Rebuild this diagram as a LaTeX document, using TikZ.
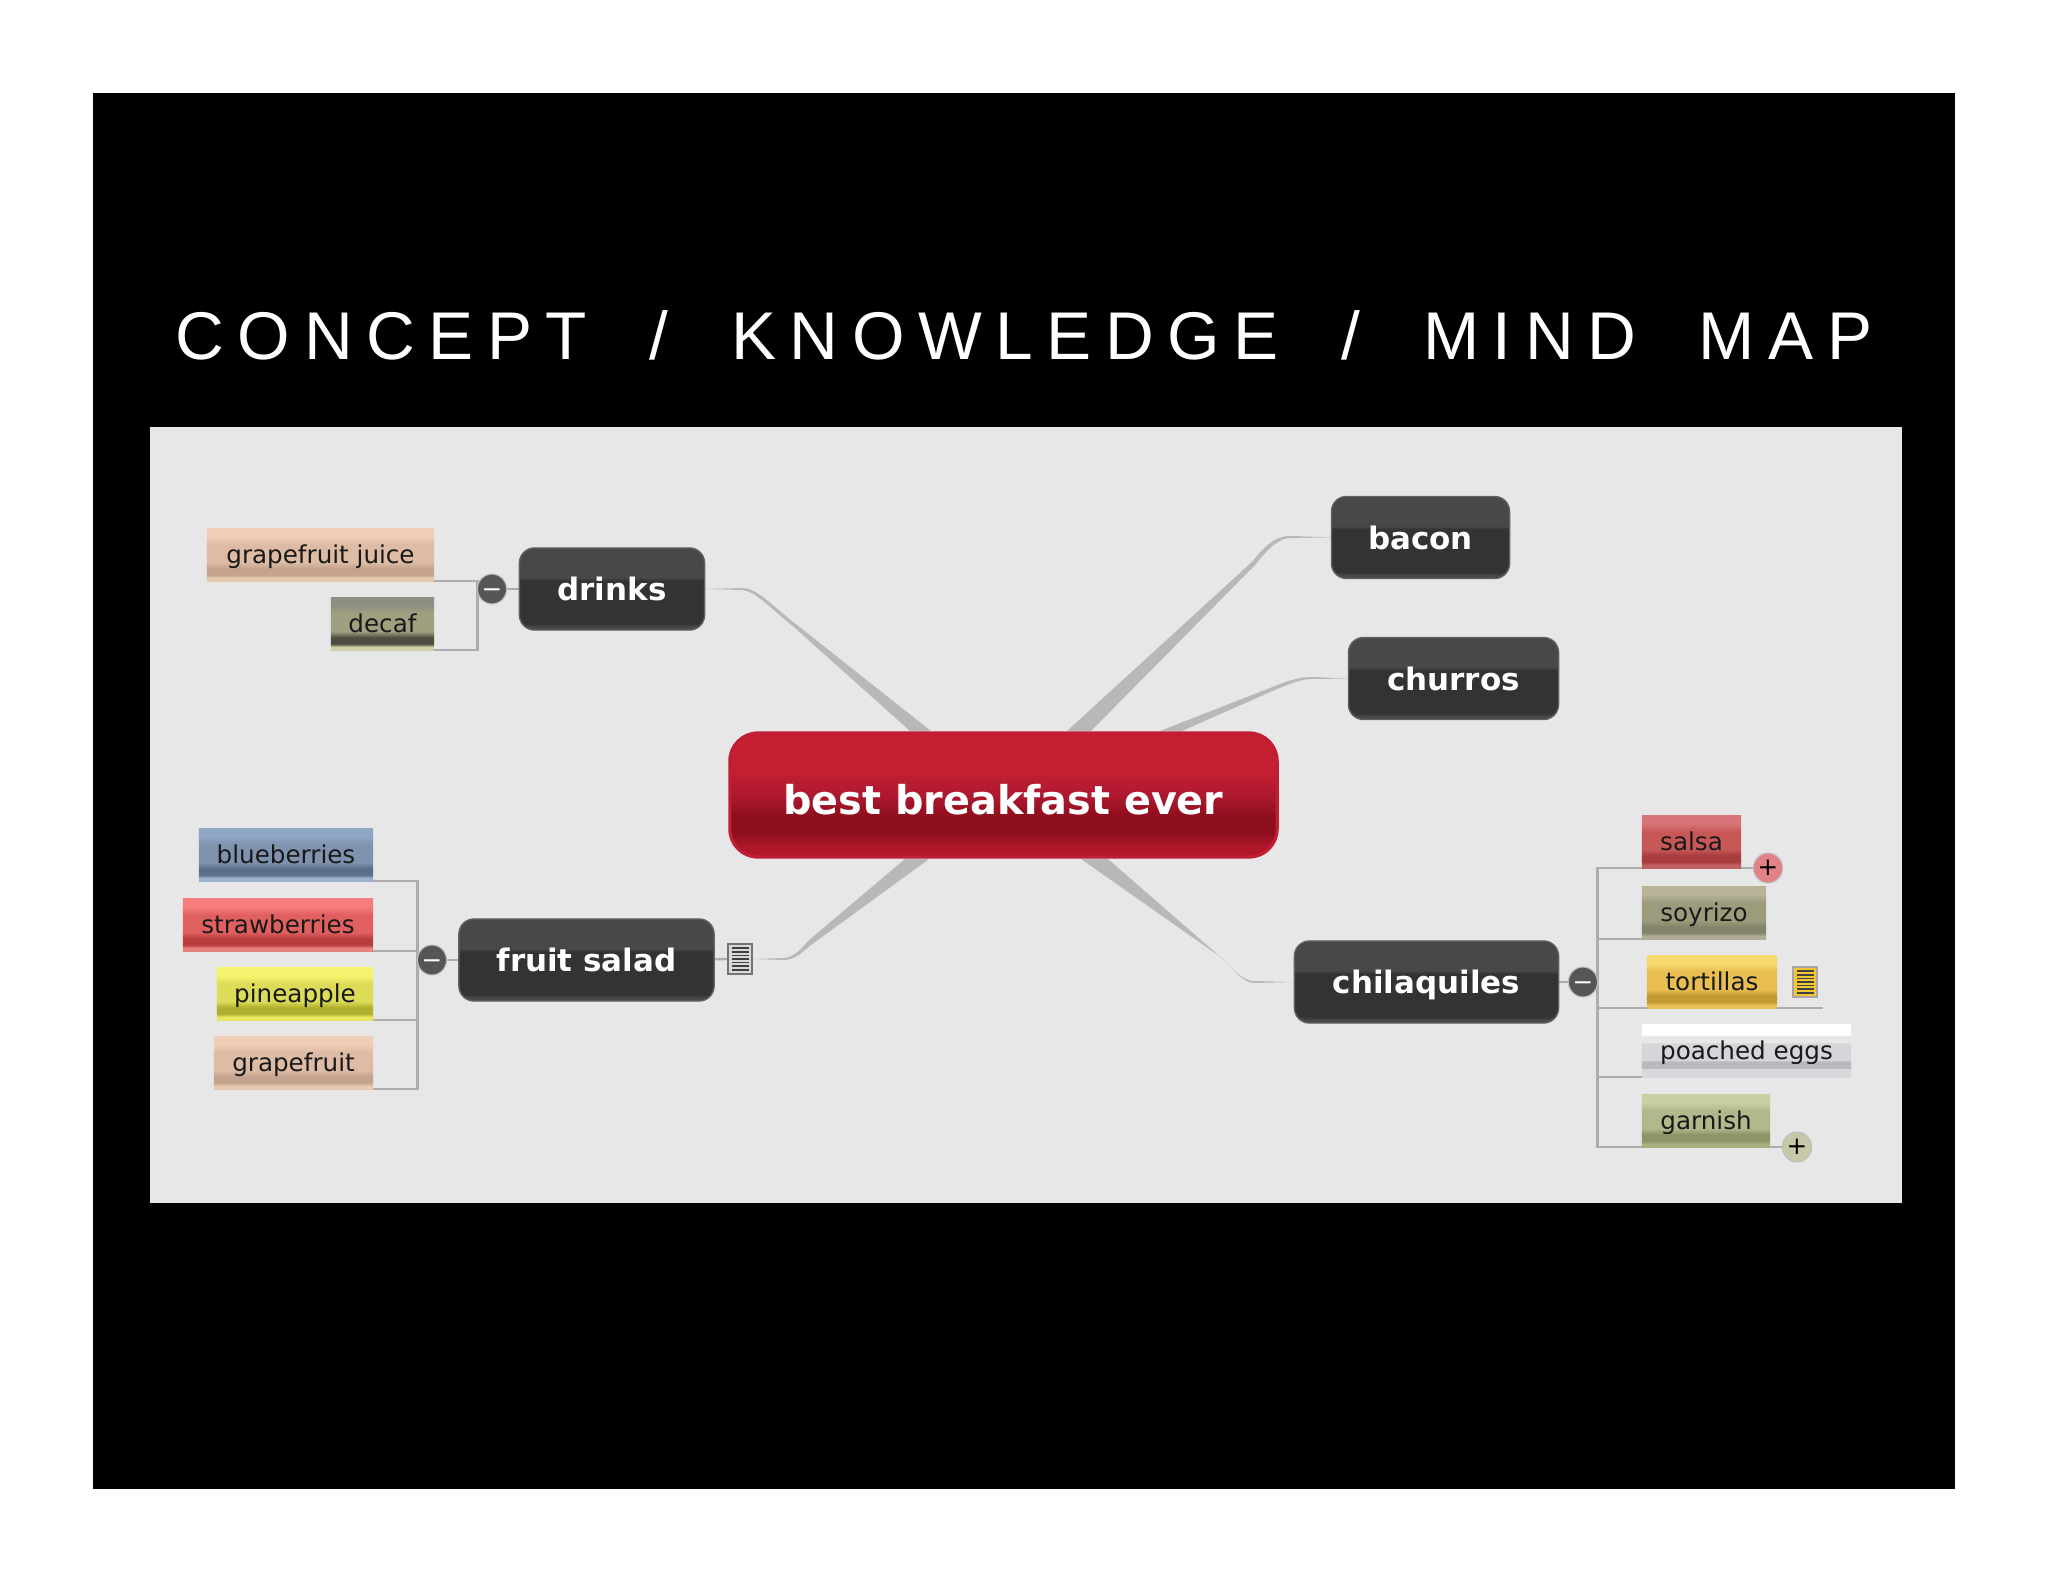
\documentclass[tikz,border=0pt]{standalone}
\usepackage{fontspec}
\setmainfont{DejaVu Sans}
\newfontfamily\titlefont[LetterSpace=20,WordSpace=1.95]{Liberation Sans}
\usetikzlibrary{backgrounds,shapes.geometric}

\definecolor{PanelClr}{HTML}{E7E7E7}
\definecolor{BranchClr}{HTML}{B8B8B8}
\definecolor{TwigClr}{HTML}{ADADAD}
\definecolor{KnobClr}{HTML}{565658}
\definecolor{PlusRedClr}{HTML}{E28286}
\definecolor{PlusOliveClr}{HTML}{C6C8A6}
\definecolor{NoteGreyClr}{HTML}{D8D8D8}
\definecolor{NoteYellowClr}{HTML}{F4C632}
\definecolor{DarkClr}{HTML}{333333}
\definecolor{DarkTopClr}{HTML}{484848}
\definecolor{RedTopClr}{HTML}{C42032}
\definecolor{RedMidClr}{HTML}{AE1830}
\definecolor{RedLowClr}{HTML}{8C0E1C}
\definecolor{RedEdgeClr}{HTML}{B0182A}
\definecolor{RedLineClr}{HTML}{C01E34}
\definecolor{PoachTopClr}{HTML}{D4D6DA}
\definecolor{PoachLowClr}{HTML}{B8BABE}
\definecolor{PoachEdgeClr}{HTML}{D8D8DC}

\newcommand{\minusbar}{\smash{\raisebox{-.36em}{−}}}
\newcommand{\leafshading}[5]{%
  \definecolor{#1A}{HTML}{#2}\definecolor{#1B}{HTML}{#3}%
  \definecolor{#1C}{HTML}{#4}\definecolor{#1D}{HTML}{#5}%
  \pgfdeclareverticalshading{#1}{100bp}{color(0bp)=(#1D); color(28bp)=(#1D);
    color(31bp)=(#1C); color(37bp)=(#1C); color(43bp)=(#1B); color(60bp)=(#1B);
    color(68bp)=(#1A); color(100bp)=(#1A)}}

\leafshading{peachleaf}{F0CDB6}{DDBBA5}{C4A48E}{E4C9AE}
\leafshading{decafleaf}{8E8F82}{A0A080}{4D4D40}{D0D0A8}
\leafshading{blueleaf}{8FA6C4}{7F93AE}{5A6F8C}{9DB0CC}
\leafshading{strawleaf}{F67E7E}{E06060}{B83C3C}{E88080}
\leafshading{pineleaf}{F4F46E}{DCDC58}{B0B030}{E8E860}
\leafshading{salsaleaf}{D87478}{C85858}{A83C40}{C06060}
\leafshading{soyleaf}{B8B498}{9C9C7C}{84846A}{B0AC98}
\leafshading{tortleaf}{F6DA70}{E8BE50}{C09C30}{E8C058}
\leafshading{garnleaf}{C8D0A4}{B0B88C}{8C9468}{A8B080}

\pgfdeclareverticalshading{poachleaf}{100bp}{color(0bp)=(PoachEdgeClr); color(33bp)=(PoachEdgeClr);
  color(33.5bp)=(PoachLowClr); color(40bp)=(PoachLowClr); color(41bp)=(PoachTopClr); color(57.5bp)=(PoachTopClr);
  color(58bp)=(PanelClr); color(65bp)=(PanelClr); color(65.5bp)=(white); color(100bp)=(white)}
\pgfdeclareverticalshading{darkshade}{100bp}{color(0bp)=(DarkTopClr); color(27bp)=(DarkTopClr);
  color(29bp)=(DarkClr); color(55bp)=(DarkClr); color(57bp)=(DarkTopClr); color(100bp)=(DarkTopClr)}
\pgfdeclareverticalshading{redshade}{100bp}{color(0bp)=(RedEdgeClr); color(29bp)=(RedEdgeClr);
  color(35bp)=(RedLowClr); color(41bp)=(RedLowClr); color(50bp)=(RedMidClr); color(60bp)=(RedTopClr); color(100bp)=(RedTopClr)}

\tikzset{
  leaf/.style={rectangle,shading=#1,shading angle=0,inner sep=0pt,outer sep=0pt,
    minimum height=.52cm,font=\fontsize{7pt}{8pt}\selectfont,text=black!90,
    text height=1.5ex,text depth=.6ex},
  topic/.style={rectangle,rounded corners=.15cm,shading=darkshade,shading angle=0,draw=black!62,line width=.4pt,
    inner sep=0pt,outer sep=0pt,minimum height=.82cm,text=white,font=\fontsize{8.8pt}{10pt}\selectfont\bfseries,
    text height=1.6ex,text depth=.4ex},
  root/.style={rectangle,rounded corners=.28cm,shading=redshade,shading angle=0,draw=RedLineClr,line width=.9pt,
    inner sep=0pt,outer sep=0pt,minimum width=5.47cm,minimum height=1.24cm,text=white,
    font=\fontsize{11.3pt}{12pt}\selectfont\bfseries,text height=1.1em,text depth=0pt},
  knob/.style={ellipse,fill=#1,draw=black!25,line width=.3pt,minimum width=.26cm,minimum height=.3cm,
    inner sep=0pt,outer sep=0pt,font=\fontsize{7pt}{7pt}\selectfont},
  minusknob/.style={knob=KnobClr,text=white},
  noteicon/.style 2 args={rectangle,fill=#1,draw=#2,line width=.6pt,minimum width=.24cm,minimum height=.3cm,
    inner sep=0pt,outer sep=0pt,path picture={
      \foreach \row in {-3,...,3}
        \draw[black!75,line width=.45pt] ([xshift=.035cm,yshift=\row*.036cm]path picture bounding box.west)
          -- ([xshift=-.035cm,yshift=\row*.036cm]path picture bounding box.east);}},
  twig/.style={TwigClr,line width=.65pt},
  branch/.style={fill=BranchClr}
}

\begin{document}
\begin{tikzpicture}[x=.01cm,y=-.01cm]
\useasboundingbox (0,0) rectangle (2048,1582);

% main topics
\node[root] (breakfast) at (1003.5,795) {best breakfast ever};
\node[topic,minimum width=1.85cm] (drinks) at (612,589) {drinks};
\node[topic,minimum width=1.78cm] (bacon) at (1420.5,537.5) {bacon};
\node[topic,minimum width=2.10cm] (churros) at (1453.5,678.5) {churros};
\node[topic,minimum width=2.55cm] (fruitsalad) at (586.5,960) {fruit salad};
\node[topic,minimum width=2.64cm] (chilaquiles) at (1426.5,982) {chilaquiles};

% left leaves
\node[leaf=peachleaf,minimum width=2.27cm] (juice) at (320.5,555) {grapefruit juice};
\node[leaf=decafleaf,minimum width=1.03cm] (decaf) at (382.5,624) {decaf};
\node[leaf=blueleaf,minimum width=1.74cm] (blueberries) at (286,855) {blueberries};
\node[leaf=strawleaf,minimum width=1.90cm] (strawberries) at (278,925) {strawberries};
\node[leaf=pineleaf,minimum width=1.56cm] (pineapple) at (295,994) {pineapple};
\node[leaf=peachleaf,minimum width=1.59cm] (grapefruit) at (293.5,1063) {grapefruit};

% right leaves
\node[leaf=salsaleaf,minimum width=.99cm] (salsa) at (1691.5,842) {salsa};
\node[leaf=soyleaf,minimum width=1.24cm] (soyrizo) at (1704,913) {soyrizo};
\node[leaf=tortleaf,minimum width=1.30cm] (tortillas) at (1712,982) {tortillas};
\node[leaf=poachleaf,minimum width=2.09cm] (poached) at (1746.5,1051) {poached eggs};
\node[leaf=garnleaf,minimum width=1.28cm] (garnish) at (1706,1121) {garnish};

% knobs and notes
\node[minusknob] (minusD) at (492,589) {\minusbar};
\node[minusknob] (minusF) at (432,960) {\minusbar};
\node[minusknob] (minusC) at (1583,982) {\minusbar};
\node[knob=PlusRedClr,text=black] (plusS) at (1768,868) {+};
\node[knob=PlusOliveClr,text=black] (plusG) at (1797,1147) {+};
\node[noteicon={NoteGreyClr}{black!55}] (noteF) at (740,959) {};
\node[noteicon={NoteYellowClr}{black!35}] (noteT) at (1805,982) {};
\coordinate (endT) at (1823,1008);

\begin{pgfonlayer}{background}
\fill[white] (0,0) rectangle (2048,1582);
\fill[black] (93,93) rectangle (1955,1489);
\fill[PanelClr] (150,427) rectangle (1902,1203);

% branches, thin at the topic and thick at the root
\fill[branch] (drinks.east) -- (742,588) .. controls (757,588) and (770,604) .. (797,625) -- (931,731) -- (910,731) -- (795,628) .. controls (768,606) and (755,591) .. (742,590) -- cycle;
\fill[branch] (bacon.west) -- (1293,536) .. controls (1280,535) and (1268,541) .. (1253,561) -- (1067,731) -- (1091,731) -- (1256,564) .. controls (1270,546) and (1281,537) .. (1293,538) -- cycle;
\fill[branch] (churros.west) -- (1313,677) .. controls (1300,677) and (1290,680) .. (1275,686) -- (1160,731) -- (1182,731) -- (1277,689) .. controls (1292,683) and (1301,679) .. (1313,679) -- cycle;
\fill[branch] (noteF.east) -- (784,958) .. controls (795,957) and (802,948) .. (808,941) -- (905,859) -- (929,859) -- (811,945) .. controls (804,950) and (796,960) .. (784,960) -- cycle;
\fill[branch] (chilaquiles.west) -- (1254,981) .. controls (1243,981) and (1234,970) .. (1222,958) -- (1081,859) -- (1108,859) -- (1225,961) .. controls (1236,972) and (1244,983) .. (1254,983) -- cycle;

% twigs
\draw[twig] (juice.south east) -| (minusD.west);
\draw[twig] (decaf.south east) -| (minusD.west);
\draw[twig] (minusD) -- (drinks);
\draw[twig] (blueberries.south east) -| (minusF.west);
\draw[twig] (strawberries.south east) -| (minusF.west);
\draw[twig] (pineapple.south east) -| (minusF.west);
\draw[twig] (grapefruit.south east) -| (minusF.west);
\draw[twig] (minusF) -- (fruitsalad);
\draw[twig] (fruitsalad) -- (noteF);
\draw[twig] (plusS) -| (minusC.east);
\draw[twig] (soyrizo.south east) -| (minusC.east);
\draw[twig] (endT) -| (minusC.east);
\draw[twig] (poached.south east) -| (minusC.east);
\draw[twig] (plusG) -| (minusC.east);
\draw[twig] (minusC) -- (chilaquiles);
\end{pgfonlayer}

\node[text=white,font=\fontsize{19.2pt}{22pt}\titlefont] (title) at (1024,335) {CONCEPT / KNOWLEDGE / MIND MAP};

\end{tikzpicture}
\end{document}
